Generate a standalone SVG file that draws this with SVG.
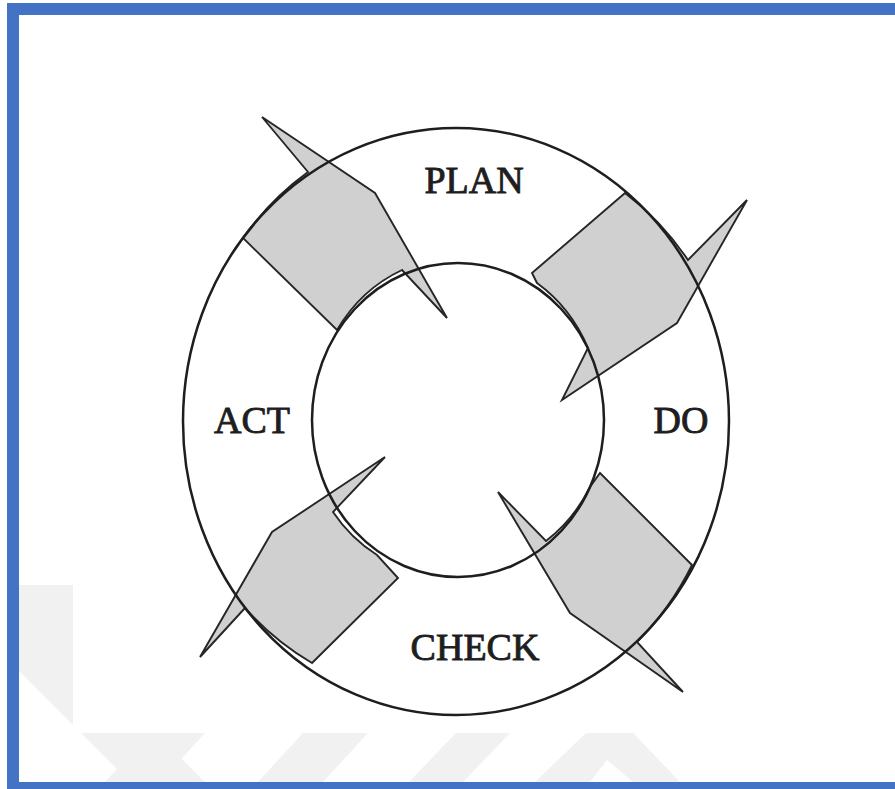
<svg xmlns="http://www.w3.org/2000/svg" width="895" height="789" viewBox="0 0 895 789">
<style>
.frame{fill:#4472c4}
.wm{fill:#f1f1f1}
.ring{fill:none;stroke:#1e1e1e;stroke-width:2.5}
.arrow{fill:#d0d0d0;stroke:#262626;stroke-width:1.9;stroke-linejoin:miter}
.lbl{font-family:"Liberation Serif","Times New Roman",serif;font-size:38px;fill:#1e1e1e;stroke:#1e1e1e;stroke-width:0.9;text-anchor:middle}
</style>
<rect x="0" y="0" width="895" height="789" fill="#ffffff"/>
<g id="watermark">
<polygon class="wm" points="19,585 73,585 73,650 19,650"/>
<polygon class="wm" points="19,671 19,596 205,782 130,782"/>
<polygon class="wm" points="150,733 205,733 160,782 105,782"/>
<polygon class="wm" points="303,733 368,733 323,782 258,782"/>
<polygon class="wm" points="456,733 510,733 463,782 409,782"/>
<polygon class="wm" points="586,733 633,733 680,782 633,782 607,760 590,782 535,782"/>
</g>
<rect x="73" y="15" width="822" height="718" fill="#ffffff"/>
<g id="frame">
<rect class="frame" x="7" y="3" width="888" height="12"/>
<rect class="frame" x="7" y="3" width="12" height="786"/>
<rect class="frame" x="7" y="782" width="888" height="7"/>
</g>
<g id="connectors">
<path id="arrow-plan-do" class="arrow" d="M 262,117 L 375,193 L 447,318 L 402,270 A 146 157 0 0 0 337,330 L 243,238 A 273 293.5 0 0 1 308,172 Z"/>
<path id="arrow-do-check" class="arrow" d="M 747,200 L 677,323 L 562,400 L 588,348 A 146 157 0 0 0 537,283 L 532,273 L 625,193 A 273 293.5 0 0 1 688,260 Z"/>
<path id="arrow-check-act" class="arrow" d="M 498,492 L 570,613 L 683,692 L 637,642 A 273 293.5 0 0 0 692,565 L 600,473 L 590,487 A 146 157 0 0 1 546,541 Z"/>
<path id="arrow-act-plan" class="arrow" d="M 385,457 L 272,532 L 200,657 L 245,608 A 273 293.5 0 0 0 312,663 L 398,578 L 377,555 A 146 157 0 0 1 333,512 Z"/>
</g>
<g id="cycle-ring">
<ellipse class="ring" cx="456" cy="421.5" rx="273" ry="293.5"/>
<ellipse class="ring" cx="458" cy="420" rx="146" ry="157"/>
</g>
<g id="node-plan"><text class="lbl" x="474" y="193">PLAN</text></g>
<g id="node-do"><text class="lbl" x="681" y="433">DO</text></g>
<g id="node-check"><text class="lbl" x="475" y="660">CHECK</text></g>
<g id="node-act"><text class="lbl" x="252" y="433">ACT</text></g>
</svg>
